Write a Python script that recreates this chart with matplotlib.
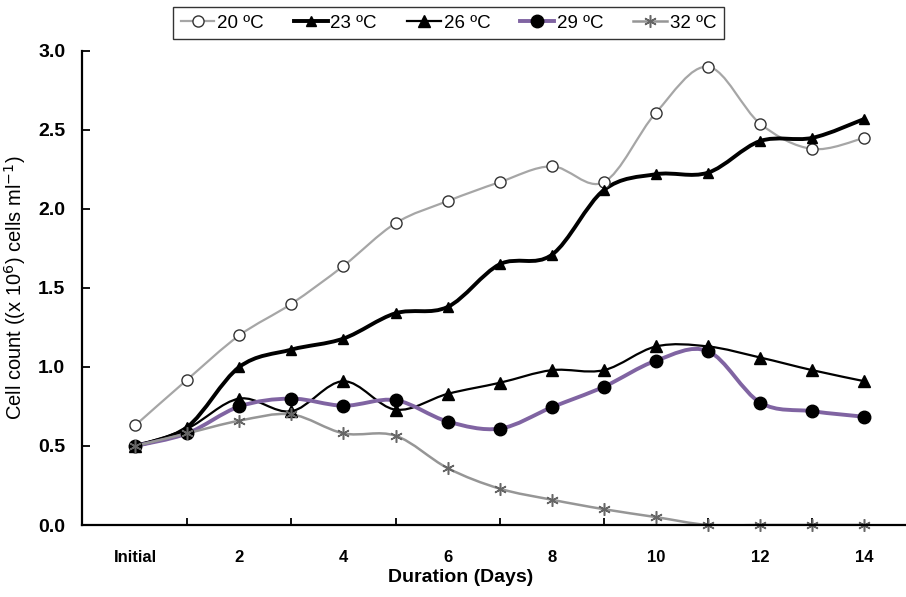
import numpy as np
import matplotlib
matplotlib.use("Agg")
from matplotlib import pyplot as plt
from matplotlib.path import Path
from matplotlib.patches import PathPatch
from matplotlib.lines import Line2D

plt.rcParams['font.family'] = ['Liberation Sans', 'DejaVu Sans']

days = np.arange(15)
tick_labels = ['Initial', '2', '4', '6', '8', '10', '12', '14']

t20 = [0.63, 0.92, 1.20, 1.40, 1.64, 1.91, 2.05, 2.17, 2.27, 2.17, 2.61, 2.90, 2.54, 2.38, 2.45]
t23 = [0.50, 0.62, 1.00, 1.11, 1.18, 1.34, 1.38, 1.65, 1.71, 2.12, 2.22, 2.23, 2.43, 2.45, 2.57]
t26 = [0.50, 0.61, 0.80, 0.72, 0.91, 0.73, 0.83, 0.90, 0.98, 0.98, 1.13, 1.13, 1.06, 0.98, 0.91]
t29 = [0.50, 0.58, 0.75, 0.80, 0.755, 0.79, 0.655, 0.61, 0.745, 0.875, 1.04, 1.10, 0.775, 0.72, 0.685]
t32 = [0.50, 0.58, 0.66, 0.70, 0.58, 0.565, 0.36, 0.23, 0.16, 0.10, 0.05, 0.0, 0.0, 0.0, 0.0]


def smooth_path(x, y):
    # excel-like smoothed line: cubic bezier segments (catmull-rom)
    p = np.column_stack([x, y]).astype(float)
    verts = [p[0]]
    codes = [Path.MOVETO]
    n = len(p)
    for i in range(n - 1):
        p0 = p[i - 1] if i > 0 else p[i]
        p3 = p[i + 2] if i + 2 < n else p[i + 1]
        c1 = p[i] + (p[i + 1] - p0) / 6
        c2 = p[i + 1] - (p3 - p[i]) / 6
        verts += [c1, c2, p[i + 1]]
        codes += [Path.CURVE4] * 3
    return Path(verts, codes)


series = [
    ('20 ºC', t20, dict(color='#a6a6a6', lw=1.6), dict(marker='o', ms=8, mfc='white', mec='#333333', mew=1.0)),
    ('23 ºC', t23, dict(color='black', lw=2.8), dict(marker='^', ms=7, mfc='black', mec='black')),
    ('26 ºC', t26, dict(color='black', lw=1.6), dict(marker='^', ms=8, mfc='black', mec='black')),
    ('29 ºC', t29, dict(color='#8064a2', lw=2.8), dict(marker='o', ms=9, mfc='black', mec='black')),
    ('32 ºC', t32, dict(color='#969696', lw=1.8), dict(marker=(6, 2, 0), ms=9, mfc='none', mec='#666666', mew=1.1)),
]

fig = plt.figure(figsize=(9.06, 5.97), dpi=100)
ax = fig.add_axes([0.0905, 0.1206, 0.9095, 0.794])

handles = []
for name, vals, lstyle, mstyle in series:
    ax.add_patch(PathPatch(smooth_path(days, vals), fill=False, edgecolor=lstyle['color'],
                           lw=lstyle['lw'], capstyle='round', joinstyle='round'))
    ax.plot(days, vals, ls='none', clip_on=False, **mstyle)
    handles.append(Line2D([], [], color=lstyle['color'], lw=lstyle['lw'], **mstyle))

ax.set_xlim(-1.02, 14.8)
ax.set_ylim(0, 3.0)
ax.set_yticks(np.arange(0, 3.01, 0.5))
ax.set_yticklabels(['%.1f' % v for v in np.arange(0, 3.01, 0.5)], fontsize=14, fontweight='bold')
ax.set_xticks(days[::2])
ax.set_xticklabels(tick_labels, fontsize=12, fontweight='bold')
ax.set_xticks(days[1::2], minor=True)
ax.tick_params(axis='x', which='major', length=0, pad=18)
ax.tick_params(axis='x', which='minor', length=5, direction='in', width=1.3)
ax.tick_params(axis='y', length=6, direction='in', width=1.3, pad=12)

for s in ['top', 'right']:
    ax.spines[s].set_visible(False)
for s in ['left', 'bottom']:
    ax.spines[s].set_linewidth(1.6)

ax.set_xlabel('Duration (Days)', fontsize=14, fontweight='bold')
ax.xaxis.set_label_coords(0.46, -0.093)
ax.set_ylabel('Cell count ((x 10$^{6}$) cells ml$^{-1}$)', fontsize=14.5)
ax.yaxis.set_label_coords(-0.066, 0.5)

leg = fig.legend(handles=handles, labels=[s[0] for s in series], ncol=5, loc='upper center',
                 bbox_to_anchor=(0.495, 0.988), fontsize=13.5, frameon=True, fancybox=False,
                 handlelength=1.8, handletextpad=0.15, columnspacing=1.6, borderpad=0.4,
                 borderaxespad=0)
leg.get_frame().set_edgecolor('black')
leg.get_frame().set_linewidth(1.0)

fig.savefig('out.png', dpi=100)
